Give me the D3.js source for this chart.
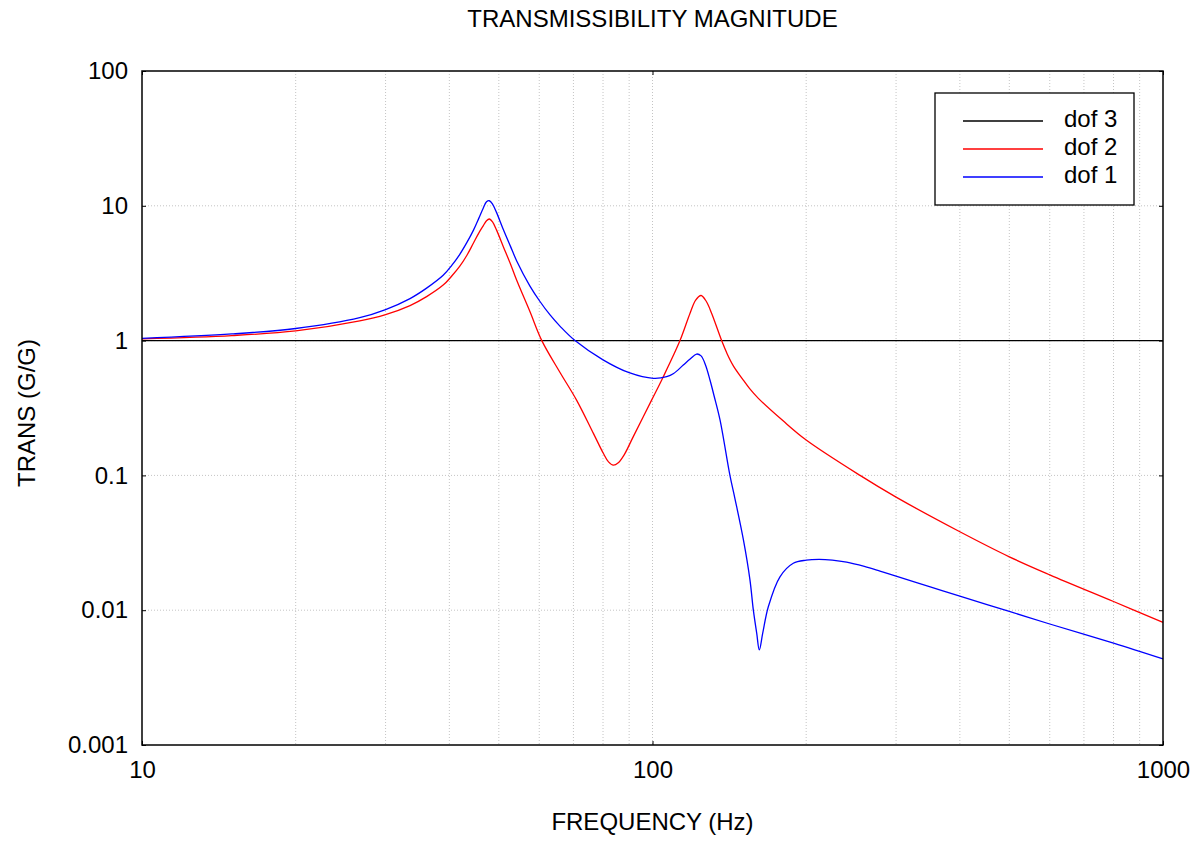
<!DOCTYPE html>
<html>
<head>
<meta charset="utf-8">
<script src="https://cdn.jsdelivr.net/npm/d3@7"></script>
<style>
  body { margin: 0; background: #fff; }
  text { font-family: "Liberation Sans", Arial, sans-serif; }
</style>
</head>
<body>
<svg id="chart" width="1201" height="845"></svg>
<script>
// values
const xTicks = [10, 100, 1000];
const yTicks = [0.001, 0.01, 0.1, 1, 10, 100];
const yTickLabels = ["0.001", "0.01", "0.1", "1", "10", "100"];
const seriesNames = ["dof 3", "dof 2", "dof 1"];
const seriesColors = ["#000000", "#ff0000", "#0000ff"];

// dof 3: base input
const dof3Freq = [10, 1000];
const dof3Vals = [1, 1];

// dof 2 (red)
const dof2Freq = [10, 15, 20, 26.7, 30, 33.5, 36.1, 38.9, 40.4, 41.9, 43.3, 44.6, 45.7, 46.6, 47.3, 47.9, 48.6, 49.5, 51, 52.7, 54.2, 57.5, 60.7, 65.9, 71, 76.6, 80.1, 82, 83.8, 85.7, 88, 91.7, 99.6, 105, 113.2, 118.4, 121.5, 124.5, 127.5, 130.6, 136.6, 140, 144, 150, 155, 161.2, 180, 200, 255, 300, 400, 500, 600, 800, 1000];
const dof2Vals = [1.03, 1.09, 1.18, 1.40, 1.56, 1.82, 2.12, 2.58, 3.0, 3.55, 4.3, 5.3, 6.3, 7.1, 7.75, 7.98, 7.6, 6.6, 5.0, 3.7, 2.8, 1.65, 1.0, 0.58, 0.362, 0.205, 0.146, 0.126, 0.119, 0.124, 0.142, 0.194, 0.362, 0.54, 1.0, 1.59, 2.0, 2.16, 1.95, 1.59, 1.0, 0.8, 0.65, 0.52, 0.44, 0.373, 0.255, 0.183, 0.1, 0.069, 0.0382, 0.0249, 0.0183, 0.0116, 0.00813];

// dof 1 (blue)
const dof1Freq = [10, 15, 20, 26.7, 30, 33.5, 36.1, 38.9, 40.4, 41.9, 43.3, 44.6, 45.7, 46.6, 47.3, 47.9, 48.6, 49.5, 51, 52.7, 54.2, 57.5, 60.2, 63, 66, 70.5, 80, 90, 100.4, 106.6, 110, 114.9, 118.5, 122, 124.5, 127, 129.6, 132, 135.6, 141.8, 145, 150.7, 155.2, 157.6, 160, 161.9, 164.4, 168.6, 177.7, 188.7, 200, 212, 225, 240, 260, 279, 300, 350, 400, 500, 600, 800, 1000];
const dof1Vals = [1.04, 1.12, 1.23, 1.48, 1.70, 2.05, 2.45, 3.05, 3.6, 4.35, 5.35, 6.6, 8.1, 9.6, 10.7, 10.9, 10.3, 8.9, 6.7, 5.0, 3.9, 2.55, 1.95, 1.55, 1.27, 1.0, 0.72, 0.578, 0.525, 0.54, 0.57, 0.659, 0.73, 0.795, 0.77, 0.66, 0.51, 0.39, 0.258, 0.1, 0.0676, 0.0332, 0.0168, 0.01, 0.00675, 0.00507, 0.00675, 0.0106, 0.0177, 0.0223, 0.0235, 0.0238, 0.0235, 0.0227, 0.0211, 0.0195, 0.0179, 0.0149, 0.0127, 0.0098, 0.0079, 0.0057, 0.00435];

const svg = d3.select("#chart");
const margin = { top: 71, right: 38, bottom: 100, left: 142 };
const W = 1201, H = 845;
const fs = "24px";

const x = d3.scaleLog().domain([10, 1000]).range([margin.left, W - margin.right]);
const y = d3.scaleLog().domain([0.001, 100]).range([H - margin.bottom, margin.top]);

// grid
const gridX = [];
for (let d = 10; d < 1000; d *= 10) for (let k = 2; k <= 9; k++) gridX.push(d * k);
gridX.push(100);
svg.append("g")
  .selectAll("line")
  .data(gridX)
  .enter().append("line")
  .attr("x1", d => x(d)).attr("x2", d => x(d))
  .attr("y1", y(100)).attr("y2", y(0.001))
  .attr("stroke", "#c4c4c4").attr("stroke-width", 1)
  .attr("stroke-dasharray", "1,2");
svg.append("g")
  .selectAll("line")
  .data([0.01, 0.1, 1, 10])
  .enter().append("line")
  .attr("x1", x(10)).attr("x2", x(1000))
  .attr("y1", d => y(d)).attr("y2", d => y(d))
  .attr("stroke", "#c4c4c4").attr("stroke-width", 1)
  .attr("stroke-dasharray", "1,2");

// curves
const line = d3.line()
  .x(d => x(d[0]))
  .y(d => y(d[1]))
  .curve(d3.curveCatmullRom.alpha(0.5));

const series = [
  d3.zip(dof3Freq, dof3Vals),
  d3.zip(dof2Freq, dof2Vals),
  d3.zip(dof1Freq, dof1Vals)
];
series.forEach((s, i) => {
  svg.append("path")
    .datum(s)
    .attr("d", line)
    .attr("fill", "none")
    .attr("stroke", seriesColors[i])
    .attr("stroke-width", 1.3);
});

// axes (ticks inward)
svg.append("g")
  .attr("transform", `translate(0,${y(0.001)})`)
  .call(d3.axisBottom(x).tickValues(xTicks).tickFormat(d3.format("d")).tickSize(-4).tickPadding(16))
  .call(g => g.select(".domain").remove())
  .selectAll("text").style("font-size", fs).style("font-family", "Liberation Sans, Arial, sans-serif");

svg.append("g")
  .attr("transform", `translate(${x(10)},0)`)
  .call(d3.axisLeft(y).tickValues(yTicks).tickFormat((d, i) => yTickLabels[i]).tickSize(-4).tickPadding(14))
  .call(g => g.select(".domain").remove())
  .selectAll("text").style("font-size", fs).style("font-family", "Liberation Sans, Arial, sans-serif");

svg.append("g")
  .attr("transform", `translate(${x(1000)},0)`)
  .call(d3.axisRight(y).tickValues(yTicks).tickFormat("").tickSize(-4))
  .call(g => g.select(".domain").remove());

svg.append("g")
  .attr("transform", `translate(0,${y(100)})`)
  .call(d3.axisTop(x).tickValues(xTicks).tickFormat("").tickSize(-4))
  .call(g => g.select(".domain").remove());

// frame
svg.append("rect")
  .attr("x", x(10)).attr("y", y(100))
  .attr("width", x(1000) - x(10)).attr("height", y(0.001) - y(100))
  .attr("fill", "none").attr("stroke", "#000").attr("stroke-width", 1.5);

// titles
svg.append("text")
  .attr("x", (x(10) + x(1000)) / 2).attr("y", 27)
  .attr("text-anchor", "middle").style("font-size", fs)
  .text("TRANSMISSIBILITY MAGNITUDE");

svg.append("text")
  .attr("x", (x(10) + x(1000)) / 2).attr("y", 830)
  .attr("text-anchor", "middle").style("font-size", fs)
  .text("FREQUENCY (Hz)");

svg.append("text")
  .attr("transform", "translate(35,413) rotate(-90)")
  .attr("text-anchor", "middle").style("font-size", fs)
  .text("TRANS (G/G)");

// legend
const lg = svg.append("g").attr("transform", "translate(935,93)");
lg.append("rect")
  .attr("width", 199).attr("height", 112)
  .attr("fill", "#fff").attr("stroke", "#000").attr("stroke-width", 1.3);
seriesNames.forEach((name, i) => {
  const ly = 28 + i * 28;
  lg.append("line")
    .attr("x1", 28).attr("x2", 108)
    .attr("y1", ly).attr("y2", ly)
    .attr("stroke", seriesColors[i]).attr("stroke-width", 1.3);
  lg.append("text")
    .attr("x", 129).attr("y", ly + 6)
    .style("font-size", fs)
    .text(name);
});
</script>
</body>
</html>
